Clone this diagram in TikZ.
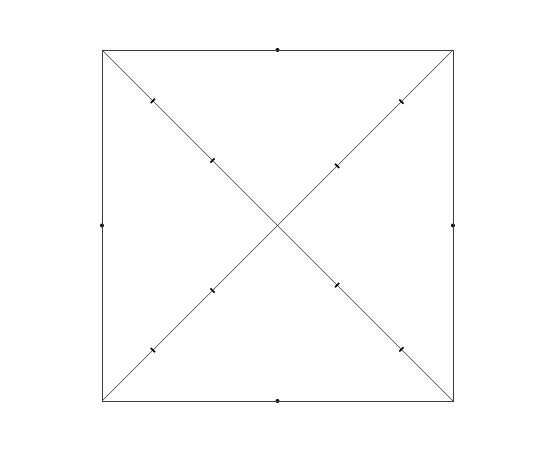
\documentclass[tikz,border=0pt]{standalone}
\usepackage{tikz}
\usetikzlibrary{positioning}
\usetikzlibrary{decorations.markings}
\definecolor{mygri1}{RGB}{60,60,60}
\tikzstyle{edge} = [line width=0.7pt, draw=mygri1]
\tikzstyle{middot} = [circle, fill=black, inner sep=0pt, minimum size=4pt]
\tikzstyle{ticks} = [edge, decoration={markings,
	mark=at position 0.145 with {\draw[line width=1.6pt, black] (0,-3pt) -- (0,3pt);},
	mark=at position 0.315 with {\draw[line width=1.6pt, black] (0,-3pt) -- (0,3pt);},
	mark=at position 0.67 with {\draw[line width=1.6pt, black] (0,-3pt) -- (0,3pt);},
	mark=at position 0.853 with {\draw[line width=1.6pt, black] (0,-3pt) -- (0,3pt);}}, postaction={decorate}]
\begin{document}
\begin{tikzpicture}[x=1pt,y=-1pt]
	\useasboundingbox (0,0) rectangle (552,465);
	\coordinate (tl) at (102,50);
	\coordinate (tr) at (453,50);
	\coordinate (bl) at (102,401);
	\coordinate (br) at (453,401);
	\node (top)[middot] at (277.5,50){};
	\node (bottom)[middot] at (277.5,401){};
	\node (left)[middot] at (102,225.5){};
	\node (right)[middot] at (453,225.5){};
	\draw [edge] (tl) -- (tr) -- (br) -- (bl) -- cycle;
	\draw [ticks] (tl) -- (br);
	\draw [ticks] (bl) -- (tr);
\end{tikzpicture}
\end{document}
